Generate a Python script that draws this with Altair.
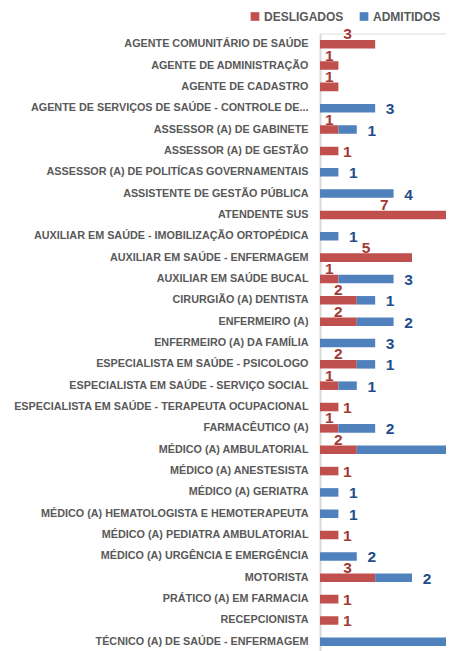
import altair as alt
import pandas as pd

categorias = [
    "AGENTE COMUNITÁRIO DE SAÚDE",
    "AGENTE DE ADMINISTRAÇÃO",
    "AGENTE DE CADASTRO",
    "AGENTE DE SERVIÇOS DE SAÚDE - CONTROLE DE...",
    "ASSESSOR (A) DE GABINETE",
    "ASSESSOR (A) DE GESTÃO",
    "ASSESSOR (A) DE POLITÍCAS GOVERNAMENTAIS",
    "ASSISTENTE DE GESTÃO PÚBLICA",
    "ATENDENTE SUS",
    "AUXILIAR EM SAÚDE - IMOBILIZAÇÃO ORTOPÉDICA",
    "AUXILIAR EM SAÚDE - ENFERMAGEM",
    "AUXILIAR EM SAÚDE BUCAL",
    "CIRURGIÃO (A) DENTISTA",
    "ENFERMEIRO (A)",
    "ENFERMEIRO (A) DA FAMÍLIA",
    "ESPECIALISTA EM SAÚDE - PSICOLOGO",
    "ESPECIALISTA EM SAÚDE - SERVIÇO SOCIAL",
    "ESPECIALISTA EM SAÚDE - TERAPEUTA OCUPACIONAL",
    "FARMACÊUTICO (A)",
    "MÉDICO (A) AMBULATORIAL",
    "MÉDICO (A) ANESTESISTA",
    "MÉDICO (A) GERIATRA",
    "MÉDICO (A) HEMATOLOGISTA E HEMOTERAPEUTA",
    "MÉDICO (A) PEDIATRA AMBULATORIAL",
    "MÉDICO (A) URGÊNCIA E EMERGÊNCIA",
    "MOTORISTA",
    "PRÁTICO (A) EM FARMACIA",
    "RECEPCIONISTA",
    "TÉCNICO (A) DE SAÚDE - ENFERMAGEM",
]
desligados = [3, 1, 1, 0, 1, 1, 0, 0, 7, 0, 5, 1, 2, 2, 0, 2, 1, 1, 1, 2, 1, 0, 0, 1, 0, 3, 1, 1, 0]
admitidos = [0, 0, 0, 3, 1, 0, 1, 4, 2, 1, 0, 3, 1, 2, 3, 1, 1, 0, 2, 6, 0, 1, 1, 0, 2, 2, 0, 0, 10]
# where the DESLIGADOS value label sits: above the red segment or right of it
rotulo_desligados = ["acima", "acima", "acima", "-", "acima", "direita", "-", "-", "acima", "-",
                     "acima", "acima", "acima", "acima", "-", "acima", "acima", "direita", "acima", "acima",
                     "direita", "-", "-", "direita", "-", "acima", "direita", "direita", "-"]
series = ["DESLIGADOS", "ADMITIDOS"]
cores = ["#C0504D", "#4F81BD"]

XMAX = 6.85  # visible part of the value axis (the original picture is cut at the right)

rows = []
for c, d, a in zip(categorias, desligados, admitidos):
    if d > 0:
        rows.append({"cat": c, "serie": "DESLIGADOS", "valor": d, "ordem": 0})
    if a > 0:
        rows.append({"cat": c, "serie": "ADMITIDOS", "valor": a, "ordem": 1})
df = pd.DataFrame(rows)

acima = pd.DataFrame([{"cat": c, "x": d / 2, "t": str(d)}
                      for c, d, p in zip(categorias, desligados, rotulo_desligados)
                      if d > 0 and p == "acima" and d / 2 < XMAX])
direita = pd.DataFrame([{"cat": c, "x": d, "t": str(d)}
                        for c, d, p in zip(categorias, desligados, rotulo_desligados)
                        if d > 0 and p == "direita" and d < XMAX - 1])
adm = pd.DataFrame([{"cat": c, "x": d + a, "t": str(a)}
                    for c, d, a in zip(categorias, desligados, admitidos)
                    if a > 0 and d + a < XMAX - 1])

FONT = "Liberation Sans"
yenc = alt.Y("cat:N", sort=categorias, title=None,
             scale=alt.Scale(paddingInner=0.6, paddingOuter=0.3),
             axis=alt.Axis(ticks=False, grid=False, labelFont=FONT, labelFontSize=10.8,
                           labelFontWeight="bold", labelColor="#595959", labelPadding=12,
                           labelLimit=400, domainColor="#D9D9D9", domainWidth=2))
xscale = alt.Scale(domain=[0, XMAX], nice=False, zero=True)

bars = alt.Chart(df).mark_bar(clip=True).encode(
    y=yenc,
    x=alt.X("valor:Q", stack="zero", scale=xscale, axis=None),
    color=alt.Color("serie:N", scale=alt.Scale(domain=series, range=cores),
                    legend=alt.Legend(title=None, orient="none", legendX=-71, legendY=-23,
                                      direction="horizontal", symbolType="square", symbolSize=75,
                                      symbolStrokeWidth=0, labelFont=FONT, labelFontSize=12,
                                      labelFontWeight="bold", labelColor="#595959",
                                      columnPadding=14, labelOffset=3)),
    order=alt.Order("ordem:Q"),
)

txt_kw = dict(font=FONT, fontSize=15.5, fontWeight="bold")
t_acima = alt.Chart(acima).mark_text(color="#A33A36", align="center", baseline="middle", dy=-10, **txt_kw).encode(
    y=alt.Y("cat:N", sort=categorias), x=alt.X("x:Q", scale=xscale), text="t:N")
t_direita = alt.Chart(direita).mark_text(color="#A33A36", align="center", baseline="middle", dx=9, dy=1, **txt_kw).encode(
    y=alt.Y("cat:N", sort=categorias), x=alt.X("x:Q", scale=xscale), text="t:N")
t_adm = alt.Chart(adm).mark_text(color="#1F4E8C", align="center", baseline="middle", dx=15, dy=1, **txt_kw).encode(
    y=alt.Y("cat:N", sort=categorias), x=alt.X("x:Q", scale=xscale), text="t:N")

chart = alt.layer(bars, t_acima, t_direita, t_adm).properties(
    width=126, height=619,
    autosize=alt.AutoSizeParams(type="none"),
    padding={"left": 312, "top": 25.5, "right": 0, "bottom": 0},
).configure_view(stroke=None).configure(background="white")

chart.save("out.html", embed_options={"renderer": "svg", "actions": False})
